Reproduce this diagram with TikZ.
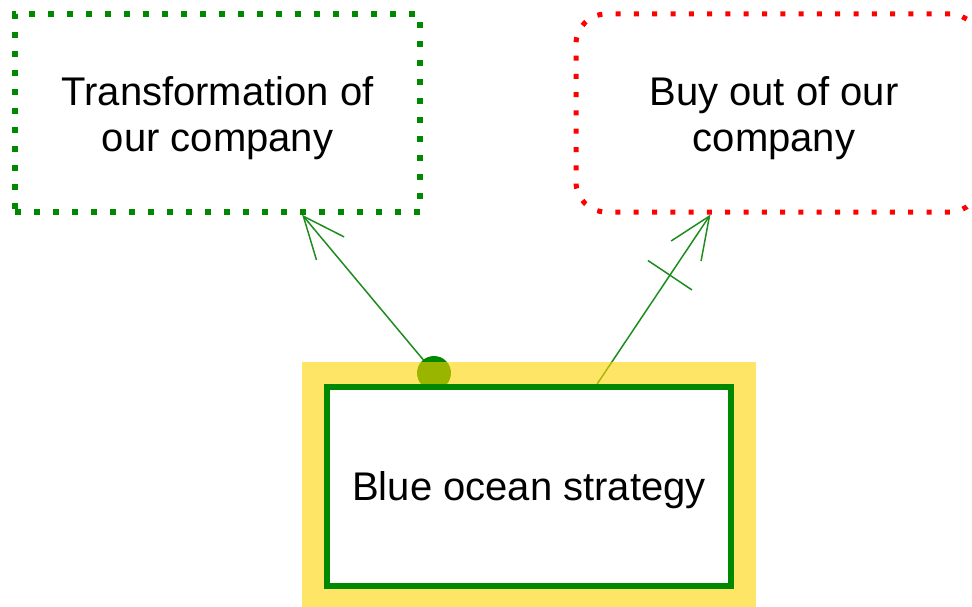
\documentclass[tikz,border=0pt]{standalone}
\usepackage{fontspec}
\setmainfont{Liberation Sans}
\usetikzlibrary{arrows.meta,decorations.markings}
\definecolor{boxgreen}{RGB}{0,136,0}
\definecolor{linegreen}{RGB}{30,140,30}
\definecolor{hlyellow}{RGB}{255,212,0}
\definecolor{dotred}{RGB}{255,0,0}
\pgfdeclarelayer{low}
\pgfdeclarelayer{mid}
\pgfsetlayers{low,mid,main}
\tikzset{
  x=1pt, y=-1pt,
  lbl/.style={font=\fontsize{40}{46}\selectfont, align=center, text=black, yshift=-5pt},
  greenbox/.style={draw=boxgreen, line width=5.5pt, dash pattern=on 6pt off 13pt,
    minimum width=405pt, minimum height=198pt, inner sep=0pt},
  redbox/.style={draw=dotred, line width=5pt, dash pattern=on 5pt off 13.3pt,
    rounded corners=30pt, minimum width=404pt, minimum height=198pt, inner sep=0pt},
  mainbox/.style={draw=boxgreen, fill=white, line width=6pt,
    minimum width=404pt, minimum height=199pt, inner sep=0pt},
  highlight/.style={fill=hlyellow, fill opacity=0.6, draw=none,
    minimum width=454pt, minimum height=249pt, inner sep=0pt},
  startdot/.style={circle, fill=boxgreen, minimum size=34pt, inner sep=0pt},
  link/.style={draw=linegreen, line width=1.5pt,
    -{Straight Barb[length=42pt,width=36pt,line width=1.5pt]}},
  tick/.style={postaction={decorate}, decoration={markings,
    mark=at position -73pt with {\draw[-, linegreen, line width=1.5pt] (0pt,-26.5pt) -- (0pt,26.5pt);}}}
}
\begin{document}
\begin{tikzpicture}
\useasboundingbox (0,0) rectangle (972,607);
\node[greenbox, label={[lbl]center:Transformation of\\our company}] (trans) at (217.5,113) {};
\node[redbox, label={[lbl, xshift=-4pt]center:Buy out of our\\company}] (buy) at (778,113) {};
\node[mainbox, label={[lbl, yshift=1pt]center:Blue ocean strategy}] (blue) at (529,486.5) {};
\begin{pgfonlayer}{low}
  \draw[link] (blue) -- (trans);
  \draw[link, tick] (blue) -- (buy);
  \node[startdot] (dot) at (434,373) {};
\end{pgfonlayer}
\begin{pgfonlayer}{mid}
  \node[highlight] (hl) at (529,486.5) {};
\end{pgfonlayer}
\end{tikzpicture}
\end{document}
